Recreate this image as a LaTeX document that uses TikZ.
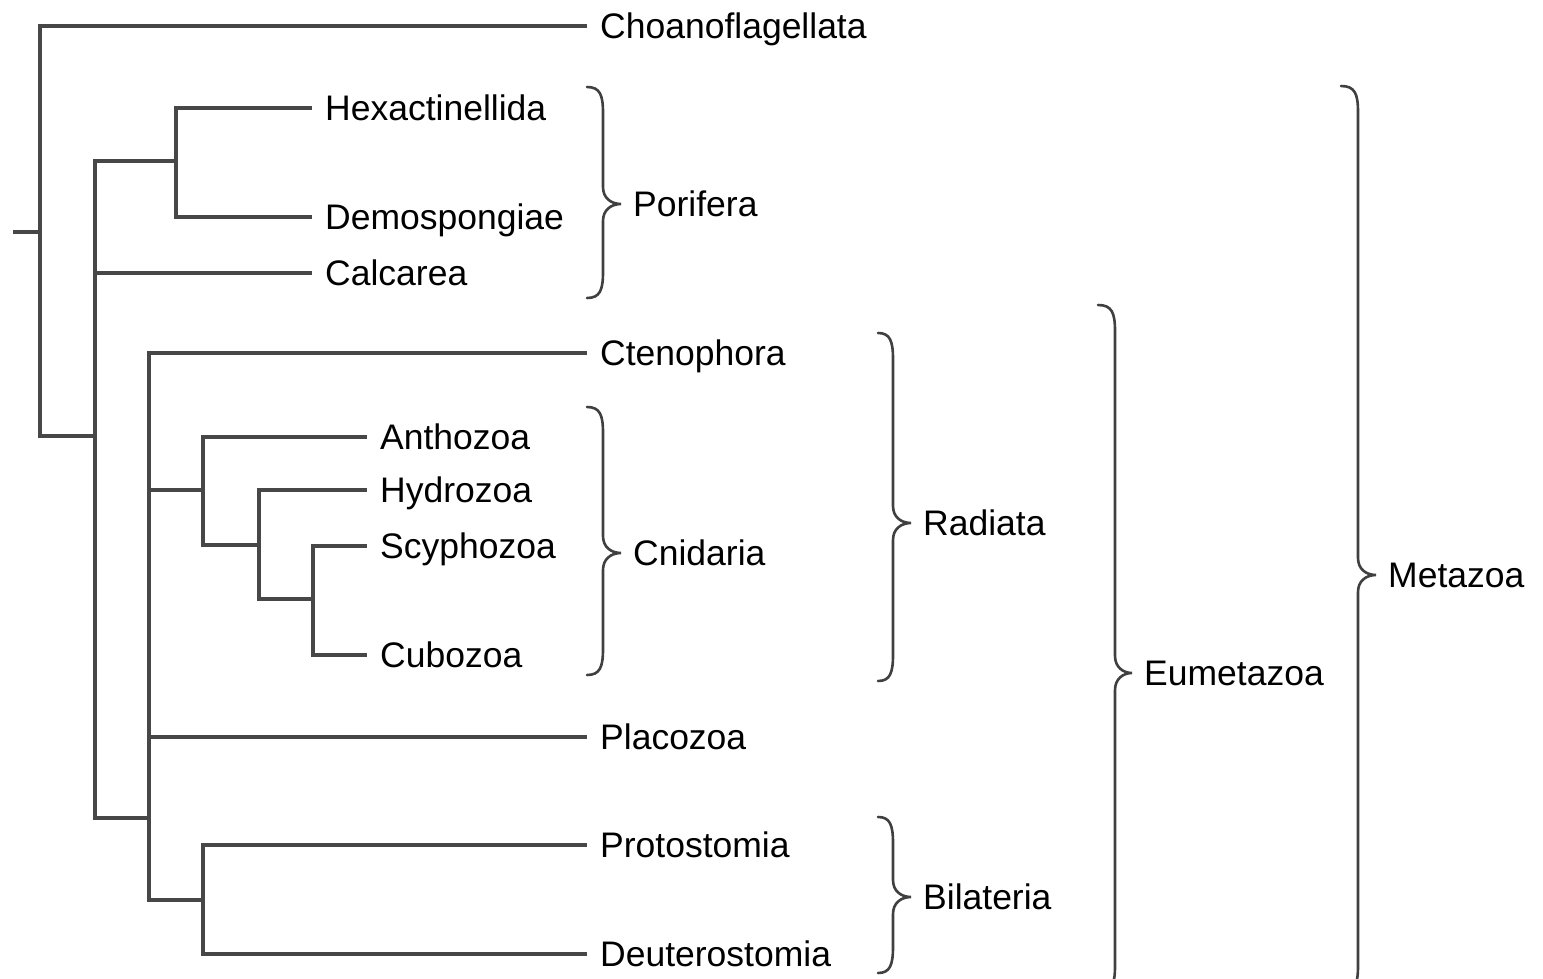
\documentclass[tikz,border=0pt]{standalone}
\usepackage{fontspec}
\setmainfont{Liberation Sans}
\newcommand\curlybrace[6]{% xl xv xt ytop ytip ybottom
  \draw[curly] (#1,#4) .. controls ({#2-3},{#4}) and (#2,{#4+8}) .. (#2,{#4+26})
    -- (#2,{#5-17}) .. controls (#2,{#5-6}) and ({#2+8},{#5}) .. (#3,#5)
    .. controls ({#2+8},{#5}) and (#2,{#5+6}) .. (#2,{#5+17})
    -- (#2,{#6-26}) .. controls (#2,{#6-8}) and ({#2-3},{#6}) .. (#1,#6);}
\begin{document}
\begin{tikzpicture}[x=1pt,y=-1pt,
  branch/.style={draw=black!72, line width=3.6pt, line join=miter},
  curly/.style={draw=black!75, line width=2.6pt, line cap=round},
  taxon/.style={anchor=west, inner xsep=13pt, inner ysep=0pt, text height=25.4pt, text depth=0pt, font=\fontsize{35.5}{40}\selectfont},
  grouplabel/.style={taxon, inner xsep=12pt}]
\useasboundingbox (0,0) rectangle (1543,979);

% leaves
\node[taxon] (choano) at (587,26) {Choanoflagellata};
\node[taxon] (hex) at (312,108) {Hexactinellida};
\node[taxon] (dem) at (312,217) {Demospongiae};
\node[taxon] (calc) at (312,273) {Calcarea};
\node[taxon] (cteno) at (587,353) {Ctenophora};
\node[taxon] (antho) at (367,437) {Anthozoa};
\node[taxon] (hydro) at (367,490) {Hydrozoa};
\node[taxon] (scypho) at (367,546) {Scyphozoa};
\node[taxon] (cubo) at (367,655) {Cubozoa};
\node[taxon] (placo) at (587,737) {Placozoa};
\node[taxon] (proto) at (587,845) {Protostomia};
\node[taxon] (deut) at (587,954) {Deuterostomia};

% internal branch points
\coordinate (stub) at (13,232);
\coordinate (R) at (40,232);
\coordinate (Mz) at (95,436);
\coordinate (Po) at (176,161);
\coordinate (Eu) at (149,818);
\coordinate (Cn1) at (203,490);
\coordinate (Cn2) at (259,545);
\coordinate (Cn3) at (313,599);
\coordinate (Bi) at (203,900);

% tree
\draw[branch] (stub) -- (R);
\draw[branch] (R) |- (choano);
\draw[branch] (R) |- (Mz);
\draw[branch] (Mz) |- (Po);
\draw[branch] (Mz) |- (calc);
\draw[branch] (Mz) |- (Eu);
\draw[branch] (Po) |- (hex);
\draw[branch] (Po) |- (dem);
\draw[branch] (Eu) |- (cteno);
\draw[branch] (Eu) |- (Cn1);
\draw[branch] (Eu) |- (placo);
\draw[branch] (Eu) |- (Bi);
\draw[branch] (Cn1) |- (antho);
\draw[branch] (Cn1) |- (Cn2);
\draw[branch] (Cn2) |- (hydro);
\draw[branch] (Cn2) |- (Cn3);
\draw[branch] (Cn3) |- (scypho);
\draw[branch] (Cn3) |- (cubo);
\draw[branch] (Bi) |- (proto);
\draw[branch] (Bi) |- (deut);

% braces
\curlybrace{587}{603}{621}{87}{204}{298}
\curlybrace{587}{603}{621}{407}{553}{675}
\curlybrace{878}{893}{911}{333}{523}{681}
\curlybrace{878}{893}{911}{817}{897}{973}
\curlybrace{1098}{1115}{1132}{305}{673}{992}
\curlybrace{1341}{1358}{1376}{86}{575}{992}

% group labels
\node[grouplabel] (porifera) at (621,204) {Porifera};
\node[grouplabel] (cnidaria) at (621,553) {Cnidaria};
\node[grouplabel] (radiata) at (911,523) {Radiata};
\node[grouplabel] (bilateria) at (911,897) {Bilateria};
\node[grouplabel] (eumetazoa) at (1132,673) {Eumetazoa};
\node[grouplabel] (metazoa) at (1376,575) {Metazoa};
\end{tikzpicture}
\end{document}
